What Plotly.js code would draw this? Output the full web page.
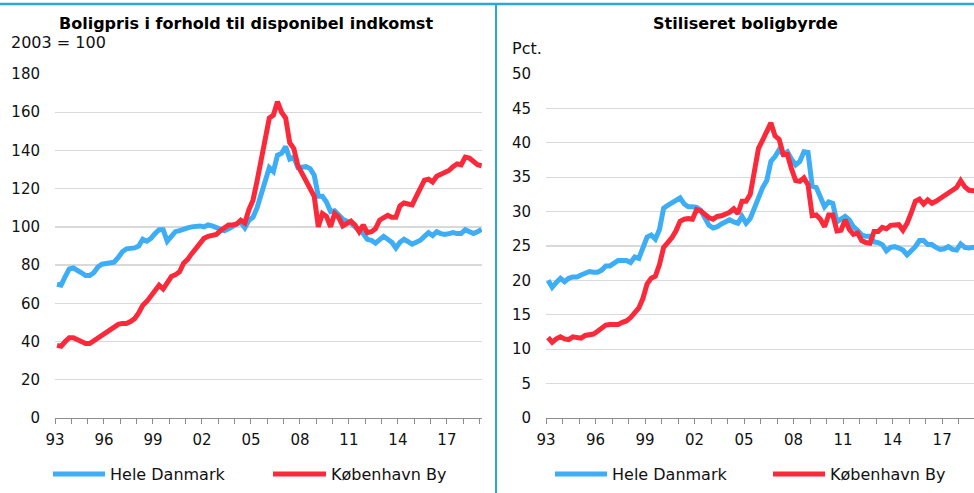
<!DOCTYPE html>
<html>
<head>
<meta charset="utf-8">
<script src="https://cdn.plot.ly/plotly-3.0.1.min.js"></script>
<style>html,body{margin:0;padding:0;background:#fff;}#chart{width:974px;height:493px;}</style>
</head>
<body>
<div id="chart"></div>
<script>
// Quarterly series, 1993Q1 .. 2019Q1
var startYear = 1993;
var seriesNames = ['Hele Danmark', 'København By'];

// Boligpris i forhold til disponibel indkomst (2003 = 100)
var hdIndex = [
  70, 69.5, 74, 78,
  78.5, 77.5, 76, 74.5,
  74.5, 76, 79, 80.5,
  81, 81, 81.5, 84,
  87, 88.5, 88.5, 89,
  90, 93.5, 92.5, 94,
  96.5, 98.5, 98.5, 92.5,
  95, 97.5, 98, 99,
  99.5, 100, 100.5, 100.5,
  100, 101, 100.5, 99.5,
  98.5, 98, 99, 100.5,
  101.5, 102.5, 99.5, 103.5,
  105, 110, 117, 124,
  131, 129, 137.5, 138.5,
  142, 135.5, 136.5, 131,
  131.5, 131.5, 130.5, 127,
  116, 116, 113, 108,
  108.5, 106, 104, 103,
  102, 100, 98, 96.5,
  93.5, 93, 91.5, 93,
  95, 93.5, 92, 89,
  92, 93.5, 92.5, 91,
  92, 93, 95, 97,
  95.5, 97.5, 96.5, 96,
  96.5, 97, 96.5, 96.5,
  98.5, 97.5, 96.5, 97.5,
  98.7
];
var kbIndex = [
  38, 37.5, 40, 42,
  42, 41, 40, 39,
  39, 40.5, 42, 43,
  44.5, 46, 48, 49,
  49.5, 49.5, 50.5, 52,
  55, 59, 61, 63.5,
  66, 69.5, 67.5, 71,
  74, 75, 76.5, 81,
  83, 86, 88.5, 91,
  94, 95, 95.5, 96,
  98, 99.5, 101, 101,
  101.5, 103.5, 102, 109,
  114, 124, 136, 147,
  157, 158.5, 165.5, 160,
  157, 144, 141, 132,
  128, 124, 120, 116,
  100, 107, 105.5, 100,
  107, 105, 100.5, 102,
  103, 101, 97.5, 101,
  97, 97.5, 99, 103.5,
  105, 106, 105, 105,
  111, 112.5, 112, 111.5,
  116, 120, 124.5, 125,
  123.5, 126.5, 127.5, 129,
  129.5, 131.5, 133, 132.5,
  136.5, 136, 134, 132.5,
  132
];

// Stiliseret boligbyrde (pct.)
var hdBurden = [
  20, 19, 19.7, 20.3,
  19.8, 20.3, 20.5, 20.5,
  20.8, 21, 21.3, 21.2,
  21.2, 21.5, 22.1, 22.1,
  22.6, 22.9, 22.9, 22.9,
  22.6, 23.4, 23.2, 24.8,
  26.3, 26.6, 26, 27.4,
  30.5, 30.9, 31.3, 31.6,
  32, 31.1, 30.7, 30.7,
  30.6, 30.2, 29.2, 28,
  27.6, 27.8, 28.2, 28.5,
  28.8, 28.5, 28.3, 29.3,
  28.3, 29, 30.5, 32,
  33.5, 34.5, 37.3, 38,
  39, 38.3, 38.7, 37.6,
  36.8, 37.3, 38.7, 38.6,
  33.7, 33.5, 32.2, 30.7,
  31.4, 31.2, 28.5, 29,
  29.3, 28.8, 27.8, 27.3,
  26.6, 26.4, 26.4, 25.6,
  25.5, 25.2, 24.3, 24.8,
  24.9, 24.7, 24.4, 23.7,
  24.2, 24.9, 25.8, 25.8,
  25.2, 25.2, 24.8, 24.5,
  24.6, 24.9, 24.5, 24.4,
  25.3, 24.8, 24.7, 24.9,
  24.9
];
var kbBurden = [
  11.7, 11, 11.5, 11.8,
  11.5, 11.4, 11.8, 11.7,
  11.6, 12, 12.1, 12.2,
  12.6, 13, 13.5, 13.6,
  13.6, 13.6, 13.9, 14.1,
  14.6, 15.2, 16, 17.4,
  19.5, 20.3, 20.6, 22.3,
  24.8, 25.5, 26.2, 27.2,
  28.6, 28.9, 29, 28.9,
  30.3, 30.1, 29.5, 29.1,
  28.9, 29.3, 29.4, 29.6,
  29.9, 30.4, 29.7, 31.5,
  31.5, 32.5, 36, 39.2,
  40.4, 41.8, 42.9, 41,
  40.5, 38.3, 38.3, 36.2,
  34.5, 34.4, 34.9, 33.9,
  29.4, 29.5, 28.9, 27.8,
  29.5, 29.5, 27.2, 27.3,
  28.8, 27.4, 26.7, 26.9,
  25.8, 25.5, 25.4, 27.1,
  27.1, 27.7, 27.5, 28,
  28.1, 28.1, 27.3, 28.3,
  29.8, 31.5, 31.8, 31.1,
  31.7, 31.2, 31.5, 32,
  32.3, 32.7, 33.1, 33.5,
  34.5, 33.6, 33.1, 33,
  33
];

var tickYears = [1993,1994,1995,1996,1997,1998,1999,2000,2001,2002,2003,2004,2005,2006,2007,2008,2009,2010,2011,2012,2013,2014,2015,2016,2017,2018,2019];
var tickLabels = ['93','','','96','','','99','','','02','','','05','','','08','','','11','','','14','','','17','',''];
var leftYTicks = [0,20,40,60,80,100,120,140,160,180];
var rightYTicks = [0,5,10,15,20,25,30,35,40,45,50];

var xq = hdIndex.map(function(_, i){ return startYear + (i + 0.5) / 4; });

var BLUE = '#3DADF6';
var RED = '#FA2A3A';
var FONT = 'DejaVu Sans, Verdana, sans-serif';
var FRAME = '#2BA6DE';

function line(x, y, name, color, xa, ya){
  return {x:x, y:y, name:name, type:'scatter', mode:'lines', xaxis:xa, yaxis:ya,
    line:{color:color, width:5, shape:'linear'}, showlegend:false, hoverinfo:'x+y'};
}

var data = [
  line(xq, hdIndex, seriesNames[0], BLUE, 'x', 'y'),
  line(xq, kbIndex, seriesNames[1], RED, 'x', 'y'),
  line(xq, hdBurden, seriesNames[0], BLUE, 'x2', 'y2'),
  line(xq, kbBurden, seriesNames[1], RED, 'x2', 'y2')
];

function xaxis(domain, range, anchor){
  return {domain:domain, range:range, anchor:anchor, tickmode:'array', tickvals:tickYears, ticktext:tickLabels,
    showline:true, linecolor:'#8C8C8C', linewidth:1, ticks:'outside', ticklen:5, tickcolor:'#8C8C8C', tickwidth:1,
    ticklabelstandoff:3,
    showgrid:false, zeroline:false, tickfont:{family:FONT, size:15, color:'#111'}, fixedrange:true};
}
function yaxis(domain, range, vals, anchor){
  return {domain:domain, range:range, anchor:anchor, tickmode:'array', tickvals:vals,
    showline:false, ticks:'', showgrid:true, gridcolor:'#D9D9D9', gridwidth:1.3, zeroline:false,
    ticklabelstandoff:14, tickfont:{family:FONT, size:15, color:'#111'}, fixedrange:true};
}

var W = 974, H = 493;
function px(x){ return x / W; }
function py(y){ return 1 - y / H; }

var yDom = [py(418), py(74)];
var legFont = {family:FONT, size:16, color:'#111'};
var layout = {
  width:W, height:H, margin:{l:0, r:0, t:0, b:0}, paper_bgcolor:'#fff', plot_bgcolor:'#fff',
  showlegend:false, font:{family:FONT, color:'#111'},
  xaxis: xaxis([px(55), px(482)], [1993, 2019.15], 'y'),
  yaxis: yaxis(yDom, [0, 180], leftYTicks, 'x'),
  xaxis2: xaxis([px(546), 1], [1993, 2018.93], 'y2'),
  yaxis2: yaxis(yDom, [0, 50], rightYTicks, 'x2'),
  shapes: [
    {type:'line', xref:'paper', yref:'paper', x0:0, x1:1, y0:py(4), y1:py(4), line:{color:FRAME, width:2.5}},
    {type:'line', xref:'paper', yref:'paper', x0:px(496), x1:px(496), y0:py(4), y1:0, line:{color:FRAME, width:2}},
    {type:'line', xref:'paper', yref:'paper', x0:px(53), x1:px(105), y0:py(474), y1:py(474), line:{color:BLUE, width:5}},
    {type:'line', xref:'paper', yref:'paper', x0:px(273), x1:px(326), y0:py(474), y1:py(474), line:{color:RED, width:5}},
    {type:'line', xref:'paper', yref:'paper', x0:px(555), x1:px(607), y0:py(474), y1:py(474), line:{color:BLUE, width:5}},
    {type:'line', xref:'paper', yref:'paper', x0:px(773), x1:px(825), y0:py(474), y1:py(474), line:{color:RED, width:5}}
  ],
  annotations: [
    {xref:'paper', yref:'paper', x:px(246), y:py(23), text:'<b>Boligpris i forhold til disponibel indkomst</b>', showarrow:false, xanchor:'center', yanchor:'middle', font:{family:FONT, size:16, color:'#000'}},
    {xref:'paper', yref:'paper', x:px(745), y:py(23), text:'<b>Stiliseret boligbyrde</b>', showarrow:false, xanchor:'center', yanchor:'middle', font:{family:FONT, size:16, color:'#000'}},
    {xref:'paper', yref:'paper', x:px(9), y:py(43), text:'2003 = 100', showarrow:false, xanchor:'left', yanchor:'middle', font:{family:FONT, size:16, color:'#111'}},
    {xref:'paper', yref:'paper', x:px(510), y:py(49), text:'Pct.', showarrow:false, xanchor:'left', yanchor:'middle', font:{family:FONT, size:16, color:'#111'}},
    {xref:'paper', yref:'paper', x:px(108), y:py(474), text:seriesNames[0], showarrow:false, xanchor:'left', yanchor:'middle', font:legFont},
    {xref:'paper', yref:'paper', x:px(329), y:py(474), text:seriesNames[1], showarrow:false, xanchor:'left', yanchor:'middle', font:legFont},
    {xref:'paper', yref:'paper', x:px(610), y:py(474), text:seriesNames[0], showarrow:false, xanchor:'left', yanchor:'middle', font:legFont},
    {xref:'paper', yref:'paper', x:px(828), y:py(474), text:seriesNames[1], showarrow:false, xanchor:'left', yanchor:'middle', font:legFont}
  ]
};

Plotly.newPlot('chart', data, layout, {displayModeBar:false, staticPlot:true});
</script>
</body>
</html>
